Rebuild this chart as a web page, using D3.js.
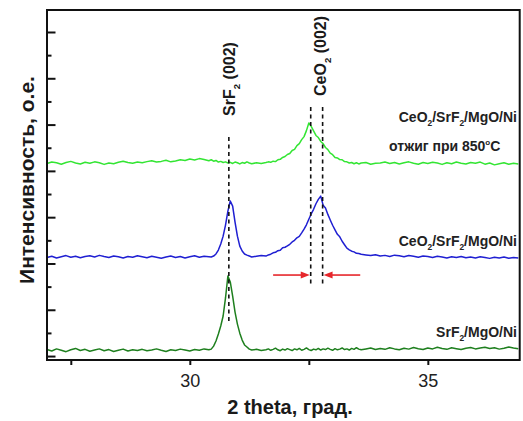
<!DOCTYPE html>
<html>
<head>
<meta charset="utf-8">
<script src="https://cdn.jsdelivr.net/npm/d3@7"></script>
<style>
  html, body { margin: 0; padding: 0; background: #fff; }
  svg { display: block; font-family: "Liberation Sans", Arial, sans-serif; }
</style>
</head>
<body>
<svg id="chart" width="523" height="421"></svg>
<script>
// 2θ sampling grid (degrees): coarse on the background, finer around the reflections
const twoTheta = [
  27.0, 27.1, 27.2, 27.3, 27.4, 27.5, 27.6, 27.7, 27.8, 27.9,
  28.0, 28.1, 28.2, 28.3, 28.4, 28.5, 28.6, 28.7, 28.8, 28.9,
  29.0, 29.1, 29.2, 29.3, 29.4, 29.5, 29.6, 29.7, 29.8, 29.9,
  30.0, 30.1, 30.2, 30.3, 30.4,
  30.45, 30.5, 30.55, 30.6, 30.65, 30.7, 30.75, 30.8, 30.85, 30.9,
  30.95, 31.0, 31.05, 31.1, 31.15, 31.2, 31.25, 31.3,
  31.4, 31.5,
  31.6, 31.65, 31.7, 31.75, 31.8, 31.85, 31.9, 31.95, 32.0, 32.05,
  32.1, 32.15, 32.2, 32.25, 32.3, 32.35, 32.4, 32.45, 32.5, 32.55,
  32.6, 32.65, 32.7, 32.75, 32.8, 32.85, 32.9, 32.95, 33.0, 33.05,
  33.1, 33.15, 33.2, 33.25, 33.3, 33.35, 33.4, 33.45, 33.5, 33.55, 33.6,
  33.7, 33.8, 33.9,
  34.0, 34.1, 34.2, 34.3, 34.4, 34.5, 34.6, 34.7, 34.8, 34.9,
  35.0, 35.1, 35.2, 35.3, 35.4, 35.5, 35.6, 35.7, 35.8, 35.9,
  36.0, 36.1, 36.2, 36.3, 36.4, 36.5, 36.6, 36.7, 36.8, 36.9
];

// CeO2/SrF2/MgO/Ni after annealing at 850 °C (offset scan, a.u.)
const annealedCounts = [
  832, 838, 835, 829, 836, 841, 834, 830, 837, 833,
  839, 835, 828, 834, 831, 837, 842, 836, 833, 838,
  835, 840, 844, 838, 841, 846, 839, 843, 848, 845,
  851, 847, 853, 849, 844,
  848, 842, 845, 838, 841, 836, 839, 834, 837, 832,
  838, 835, 830, 836, 833, 839, 834, 831,
  835, 832,
  836, 839, 837, 842, 840, 848, 850, 858, 862, 871,
  875, 888, 893, 909, 918, 935, 948, 974, 1007, 992,
  973, 953, 944, 927, 918, 901, 892, 877, 870, 858,
  856, 849, 848, 840, 839, 834, 836, 831, 835, 830, 834,
  836, 829, 833,
  834, 838, 832, 836, 830, 835, 839, 833, 829, 836,
  832, 837, 834, 828, 835, 831, 838, 833, 830, 836,
  833, 838, 829, 834, 826, 831, 835, 829, 833, 830
];

// CeO2/SrF2/MgO/Ni as deposited
const bilayerCounts = [
  426, 431, 424, 429, 434, 427, 431, 425, 430, 433,
  428, 435, 430, 426, 432, 429, 424, 430, 427, 433,
  429, 425, 431, 427, 423, 428, 432, 426, 430, 424,
  429, 433, 427, 431, 429,
  428, 432, 441, 458, 484, 518, 566, 626, 670, 648,
  579, 518, 475, 454, 441, 436, 432, 428,
  431, 434,
  432, 437, 440, 446, 448, 455, 457, 468, 470, 476,
  483, 493, 500, 511, 517, 532, 548, 567, 591, 614,
  634, 658, 677, 691, 652, 640, 612, 588, 565, 545,
  526, 515, 496, 481, 466, 459, 453, 450, 444, 443, 440,
  437, 434, 438,
  432, 435, 430, 436, 433, 429, 434, 431, 427, 432,
  430, 426, 431, 428, 424, 429, 426, 430, 425, 428,
  424, 429, 426, 422, 427, 424, 428, 423, 426, 424
];

// SrF2/MgO/Ni buffer only
const bufferCounts = [
  28, 22, 31, 25, 19, 27, 33, 24, 29, 21,
  26, 31, 23, 28, 20, 25, 30, 22, 27, 24,
  29, 23, 26, 31, 25, 20, 27, 24, 30, 26,
  22, 28, 25, 31, 27,
  30, 43, 65, 95, 130, 173, 251, 346, 320, 259,
  190, 138, 99, 69, 48, 39, 30, 26,
  29, 24,
  27, 31, 25, 29, 34, 27, 23, 30, 26, 32,
  28, 24, 31, 27, 33, 25, 29, 35, 28, 24,
  30, 27, 33, 26, 31, 28, 34, 29, 25, 32,
  27, 30, 35, 28, 31, 26, 33, 29, 36, 30, 27,
  31, 35, 28,
  33, 29, 36, 31, 27, 34, 30, 37, 32, 28,
  35, 31, 38, 33, 29, 36, 32, 28, 34, 37,
  31, 35, 38, 33, 36, 30, 34, 39, 35, 32
];

const xTickValues = [27.5, 30, 32.5, 35];
const xTickLabels = ["", "30", "", "35"];
const yMajorTicks = [0, 200, 400, 600, 800, 1000, 1200, 1400];
const yMinorTicks = [100, 300, 500, 700, 900, 1100, 1300];

// reflection positions (2θ) and vertical extent of their guide lines (a.u.)
const srf2Peak = 30.82;
const ceo2Peaks = [32.54, 32.79];
const srf2GuideRange = [147, 946];
const ceo2GuideRange = [307, 1076];
const shiftArrowLevel = 350;
const shiftArrowStarts = [31.75, 33.58];

const svg = d3.select("#chart");
const W = 523, H = 421;
svg.append("rect").attr("width", W).attr("height", H).attr("fill", "#fff");

const x = d3.scaleLinear().domain([27, 36.93]).range([47, 519.7]);
const y = d3.scaleLinear().domain([-17, 1495]).range([360, 10]);

const series = [
  { counts: annealedCounts, color: "#33e533" },
  { counts: bilayerCounts, color: "#1f1fd2" },
  { counts: bufferCounts, color: "#1e7f1e" }
];

const line = d3.line()
  .x(d => x(d[0]))
  .y(d => y(d[1]));

const plot = svg.append("g");
series.forEach(s => {
  const pts = twoTheta.map((t, i) => [t, s.counts[i]]).filter(p => p[1] !== undefined);
  plot.append("path")
    .datum(pts)
    .attr("d", line)
    .attr("fill", "none")
    .attr("stroke", s.color)
    .attr("stroke-width", 1.5)
    .attr("stroke-linejoin", "round");
});

// dashed guide lines at the reflection positions
const guides = svg.append("g")
  .attr("stroke", "#111")
  .attr("stroke-width", 1.6)
  .attr("stroke-dasharray", "4,3.5");
guides.append("line")
  .attr("x1", x(srf2Peak)).attr("x2", x(srf2Peak))
  .attr("y1", y(srf2GuideRange[1])).attr("y2", y(srf2GuideRange[0]));
ceo2Peaks.forEach(p => {
  guides.append("line")
    .attr("x1", x(p)).attr("x2", x(p))
    .attr("y1", y(ceo2GuideRange[1])).attr("y2", y(ceo2GuideRange[0]));
});

// red arrows marking the CeO2 (002) shift
const red = "#e6262b";
const arrows = svg.append("g");
[[shiftArrowStarts[0], ceo2Peaks[0] - 0.02], [shiftArrowStarts[1], ceo2Peaks[1] + 0.02]].forEach(([from, to]) => {
  const x0 = x(from), x1 = x(to), yy = y(shiftArrowLevel);
  const dir = Math.sign(x1 - x0);
  arrows.append("line")
    .attr("x1", x0).attr("x2", x1 - dir * 6)
    .attr("y1", yy).attr("y2", yy)
    .attr("stroke", red).attr("stroke-width", 1.6);
  arrows.append("path")
    .attr("d", `M${x1},${yy} L${x1 - dir * 9},${yy - 3.5} L${x1 - dir * 9},${yy + 3.5} Z`)
    .attr("fill", red);
});

// frame
svg.append("rect")
  .attr("x", x.range()[0]).attr("y", y.range()[1])
  .attr("width", x.range()[1] - x.range()[0])
  .attr("height", y.range()[0] - y.range()[1])
  .attr("fill", "none").attr("stroke", "#111").attr("stroke-width", 2);

// x axis
const xAxis = svg.append("g")
  .attr("transform", `translate(0,${y.range()[0]})`)
  .call(d3.axisBottom(x)
    .tickValues(xTickValues)
    .tickSize(5)
    .tickPadding(9)
    .tickFormat((d, i) => xTickLabels[i]));
xAxis.select(".domain").remove();
xAxis.selectAll(".tick line").attr("stroke", "#111").attr("stroke-width", 2);
xAxis.selectAll(".tick text")
  .attr("fill", "#222")
  .style("font-size", "18px")
  .style("font-family", "'Liberation Sans', Arial, sans-serif");

// y axis: inward ticks, long for major, short for minor
function yTicks(values, len) {
  const g = svg.append("g")
    .attr("transform", `translate(${x.range()[0]},0)`)
    .call(d3.axisRight(y).tickValues(values).tickSize(len).tickFormat(""));
  g.select(".domain").remove();
  g.selectAll(".tick line").attr("stroke", "#111").attr("stroke-width", 2);
}
yTicks(yMajorTicks, 8.5);
yTicks(yMinorTicks, 4.5);

// axis titles
svg.append("text")
  .attr("x", 290).attr("y", 414)
  .attr("text-anchor", "middle")
  .attr("font-weight", "bold")
  .attr("font-size", 20)
  .attr("fill", "#1a1a1a")
  .text("2 theta, град.");

svg.append("text")
  .attr("transform", "translate(34,180) rotate(-90)")
  .attr("text-anchor", "middle")
  .attr("font-weight", "bold")
  .attr("font-size", 21)
  .attr("fill", "#1a1a1a")
  .text("Интенсивность, о.е.");

// text with chemical subscripts: parts are [text, isSubscript]
function chemText(sel, parts, size) {
  parts.forEach(([t, sub], i) => {
    const ts = sel.append("tspan").text(t);
    if (sub) {
      ts.attr("font-size", size * 0.6).attr("dy", size * 0.3);
    } else if (i > 0 && parts[i - 1][1]) {
      ts.attr("dy", -size * 0.3);
    }
  });
  return sel;
}

const lblSize = 14;
function sampleLabel(xx, yy, parts, anchor) {
  const t = svg.append("text")
    .attr("x", xx).attr("y", yy)
    .attr("text-anchor", anchor)
    .attr("font-weight", "bold")
    .attr("font-size", lblSize)
    .attr("fill", "#222");
  chemText(t, parts, lblSize);
  return t;
}

const stackParts = [["CeO"], ["2", true], ["/SrF"], ["2", true], ["/MgO/Ni"]];
sampleLabel(517, 122, stackParts, "end");
const ann = svg.append("text")
  .attr("x", 389).attr("y", 151)
  .attr("font-weight", "bold")
  .attr("font-size", lblSize)
  .attr("fill", "#222");
ann.append("tspan").text("отжиг при 850");
ann.append("tspan").text("o").attr("font-size", 8).attr("dy", -6);
ann.append("tspan").text("C").attr("dy", 6);

sampleLabel(517, 246, stackParts, "end");
sampleLabel(517, 337, [["SrF"], ["2", true], ["/MgO/Ni"]], "end");

// reflection labels
const peakSize = 16;
function peakLabel(xx, yy, parts) {
  const t = svg.append("text")
    .attr("transform", `translate(${xx},${yy}) rotate(-90)`)
    .attr("text-anchor", "middle")
    .attr("font-weight", "bold")
    .attr("font-size", peakSize)
    .attr("fill", "#1a1a1a");
  chemText(t, parts, peakSize);
}
peakLabel(235, 79, [["SrF"], ["2", true], [" (002)"]]);
peakLabel(326, 56, [["CeO"], ["2", true], [" (002)"]]);
</script>
</body>
</html>
